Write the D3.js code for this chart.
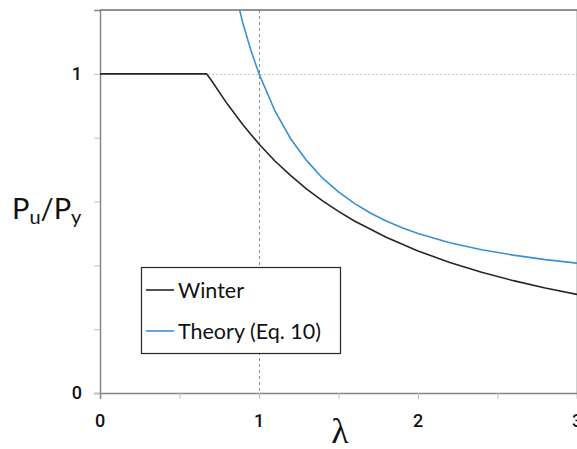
<!DOCTYPE html>
<html>
<head>
<meta charset="utf-8">
<script src="https://cdn.jsdelivr.net/npm/d3@7"></script>
<style>
	body {margin: 0; background: #fff;}
	svg {display: block; font-family: Lato, "Open Sans", sans-serif;}
</style>
</head>
<body>
<svg id="chart" width="577" height="449"></svg>
<script>
// values
const winterLambda = [0, 0.67, 0.7, 0.8, 0.9, 1.0, 1.1, 1.2, 1.3, 1.4, 1.5, 1.6, 1.8, 2.0, 2.2, 2.4, 2.6, 2.8, 3.0];
const winterValues = [1, 1, 0.98, 0.906, 0.84, 0.78, 0.727, 0.681, 0.639, 0.602, 0.569, 0.539, 0.488, 0.445, 0.409, 0.378, 0.352, 0.329, 0.309];

const theoryLambda = [0.85, 0.9, 0.95, 1.0, 1.1, 1.2, 1.3, 1.4, 1.5, 1.6, 1.7, 1.8, 1.9, 2.0, 2.2, 2.4, 2.6, 2.8, 3.0];
const theoryValues = [1.256, 1.156, 1.072, 1.0, 0.884, 0.796, 0.728, 0.673, 0.63, 0.594, 0.564, 0.539, 0.518, 0.5, 0.471, 0.449, 0.432, 0.418, 0.407];

const xTickLabels = [0, 1, 2, 3];
const yTickLabels = [0, 1];

const series = [
	{name: "Winter", xs: winterLambda, ys: winterValues, color: "#262626"},
	{name: "Theory (Eq. 10)", xs: theoryLambda, ys: theoryValues, color: "#3a8fd6"}
];

const svg = d3.select("#chart");
const margin = {top: 10, right: 0, bottom: 56, left: 100};
const width = 577 - margin.left - margin.right;
const height = 449 - margin.top - margin.bottom;

const x = d3.scaleLinear().domain([0, 3]).range([margin.left, margin.left + width]);
const y = d3.scaleLinear().domain([0, 1.2]).range([margin.top + height, margin.top]);

svg.append("defs")
.append("clipPath")
.attr("id", "plot-clip")
.append("rect")
.attr("x", margin.left)
.attr("y", margin.top)
.attr("width", width)
.attr("height", height);

// right border of plot area
svg.append("line")
.attr("x1", x(3) - 0.5).attr("x2", x(3) - 0.5)
.attr("y1", y(1.2)).attr("y2", y(0))
.attr("stroke", "#d0d0d0")
.attr("stroke-width", 1);

// dotted gridline at 1
svg.append("line")
.attr("x1", x(0)).attr("x2", x(3))
.attr("y1", Math.round(y(1)) + 0.5).attr("y2", Math.round(y(1)) + 0.5)
.attr("stroke", "#c4c4c4")
.attr("stroke-dasharray", "2,2");

// dashed marker at lambda = 1
svg.append("line")
.attr("x1", Math.round(x(1)) + 0.5).attr("x2", Math.round(x(1)) + 0.5)
.attr("y1", y(1.2)).attr("y2", y(0))
.attr("stroke", "#8c8c8c")
.attr("stroke-dasharray", "3,3");

// axes
const xAxis = svg.append("g")
.attr("transform", `translate(0, ${y(0)})`)
.call(d3.axisBottom(x).tickValues(d3.range(0, 3.01, 0.5)).tickSize(6).tickFormat(""));

const yAxis = svg.append("g")
.attr("transform", `translate(${x(0)}, 0)`)
.call(d3.axisLeft(y).tickValues(d3.range(0, 1.21, 0.2)).tickSize(6).tickFormat(""));

[xAxis, yAxis].forEach((g) => {
	g.select(".domain").attr("stroke", "#868686").attr("stroke-width", 1.5);
	g.selectAll(".tick line").attr("stroke", "#bfbfbf");
});
yAxis.select(".tick:last-of-type line").remove();
xAxis.select(".tick:first-of-type line").remove();

// top border
svg.append("line")
.attr("x1", x(0)).attr("x2", x(3))
.attr("y1", y(1.2)).attr("y2", y(1.2))
.attr("stroke", "#6e6e6e")
.attr("stroke-width", 1.5);

svg.selectAll(".x-label")
.data(xTickLabels)
.enter()
.append("text")
.attr("class", "x-label")
.attr("x", (d) => x(d))
.attr("y", y(0) + 34)
.attr("text-anchor", "middle")
.attr("font-family", "Roboto, sans-serif")
.attr("font-size", "18px")
.attr("font-weight", 500)
.attr("fill", "#111")
.text((d) => d);

svg.selectAll(".y-label")
.data(yTickLabels)
.enter()
.append("text")
.attr("class", "y-label")
.attr("x", x(0) - 18)
.attr("y", (d) => y(d))
.attr("dy", "0.36em")
.attr("text-anchor", "end")
.attr("font-family", "Roboto, sans-serif")
.attr("font-size", "18px")
.attr("font-weight", 500)
.attr("fill", "#111")
.text((d) => d);

// lines
const line = d3.line()
.x((d) => x(d[0]))
.y((d) => y(d[1]));

svg.append("g")
.attr("clip-path", "url(#plot-clip)")
.selectAll("path")
.data(series)
.enter()
.append("path")
.attr("d", (s) => line(s.xs.map((v, i) => [v, s.ys[i]])))
.attr("fill", "none")
.attr("stroke", (s) => s.color)
.attr("stroke-width", 1.6);

// axis titles
svg.append("text")
.attr("x", x(1.51))
.attr("y", 443)
.attr("text-anchor", "middle")
.attr("font-family", "'Liberation Serif', serif")
.attr("font-size", "36px")
.attr("fill", "#111")
.text("λ");

const yTitle = svg.append("text")
.attr("x", 12)
.attr("y", 219)
.attr("font-size", "29px")
.attr("fill", "#111");
yTitle.append("tspan").text("P");
yTitle.append("tspan").attr("font-size", "20px").attr("dy", 5).text("u");
yTitle.append("tspan").attr("dy", -5).text("/P");
yTitle.append("tspan").attr("font-size", "20px").attr("dy", 5).text("y");

// legend
const legend = svg.append("g");

legend.append("rect")
.attr("x", 141.5)
.attr("y", 267.5)
.attr("width", 199)
.attr("height", 86)
.attr("fill", "#fff")
.attr("stroke", "#262626")
.attr("stroke-width", 1.2);

const item = legend.selectAll(".item")
.data(series)
.enter()
.append("g")
.attr("class", "item")
.attr("transform", (d, i) => `translate(146, ${290 + i * 41})`);

item.append("line")
.attr("x1", 0).attr("x2", 28)
.attr("stroke", (d) => d.color)
.attr("stroke-width", 1.6);

item.append("text")
.attr("x", 32)
.attr("dy", "0.35em")
.attr("font-size", "21.5px")
.attr("fill", "#111")
.text((d) => d.name);
</script>
</body>
</html>
